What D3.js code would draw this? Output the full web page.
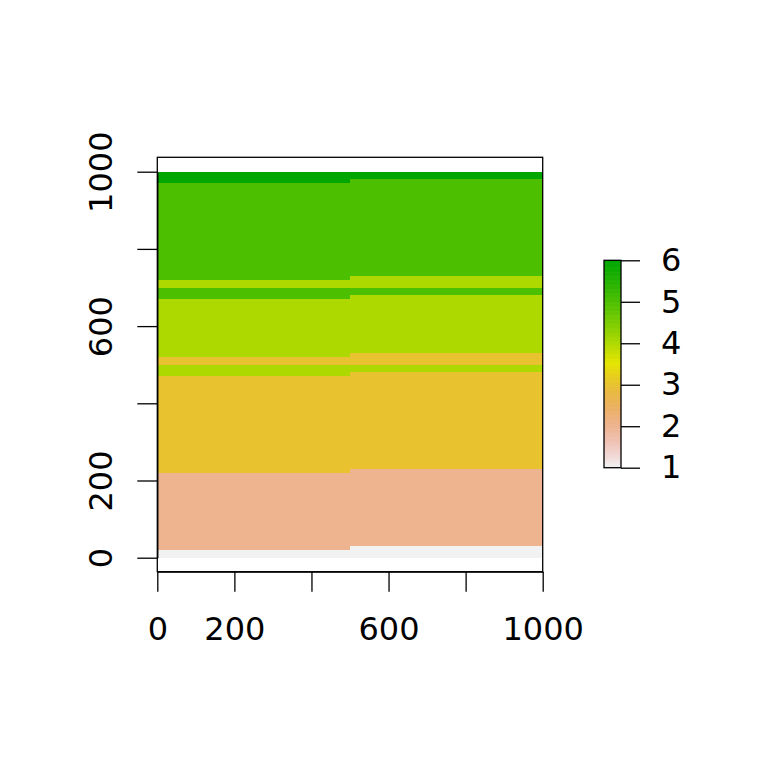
<!DOCTYPE html>
<html><head><meta charset="utf-8">
<script src="https://cdn.jsdelivr.net/npm/d3@7"></script>
<style>html,body{margin:0;padding:0;background:#fff;}svg{display:block;}text{font-family:"DejaVu Sans",sans-serif;}</style>
</head><body>
<script>
// ---- data ----
const colXEdges = [0, 500, 1000];
// left column (x 0-500): band lower edges, upper edges, values
const leftY0   = [0,  20, 220, 470, 500, 520, 670, 700, 720, 970];
const leftY1   = [20, 220, 470, 500, 520, 670, 700, 720, 970, 1000];
const leftVal  = [1,  2,   3,   4,   3,   4,   5,   4,   5,   6];
// right column (x 500-1000)
const rightY0  = [0,  30, 230, 480, 500, 530, 680, 700, 730, 980];
const rightY1  = [30, 230, 480, 500, 530, 680, 700, 730, 980, 1000];
const rightVal = [1,  2,   3,   4,   3,   4,   5,   4,   5,   6];
const xTicks = [0, 200, 400, 600, 800, 1000];
const xTickLabels = ["0", "200", "", "600", "", "1000"];
const yTicks = [0, 200, 400, 600, 800, 1000];
const yTickLabels = ["0", "200", "", "600", "", "1000"];
const legendTicks = [1, 2, 3, 4, 5, 6];
const zRange = [1, 6];

// ---- terrain.colors(255), reversed (R) ----
function hsv(h, s, v) {
  const i = Math.floor(h * 6) % 6, f = h * 6 - Math.floor(h * 6);
  const p = v * (1 - s), q = v * (1 - f * s), t = v * (1 - (1 - f) * s);
  let r, g, b;
  switch (i) { case 0: r=v;g=t;b=p;break; case 1: r=q;g=v;b=p;break; case 2: r=p;g=v;b=t;break;
    case 3: r=p;g=q;b=v;break; case 4: r=t;g=p;b=v;break; default: r=v;g=p;b=q; }
  return d3.rgb(Math.round(r*255), Math.round(g*255), Math.round(b*255)).formatHex();
}
function seq(a, b, n) { const out = []; for (let i = 0; i < n; i++) out.push(n === 1 ? a : a + (b - a) * i / (n - 1)); return out; }
function terrainColors(n) {
  const k = Math.floor(n / 2);
  const h = [4/12, 2/12, 0], s = [1, 1, 0], v = [0.65, 0.9, 0.95];
  const res = [];
  const h1 = seq(h[0], h[1], k), s1 = seq(s[0], s[1], k), v1 = seq(v[0], v[1], k);
  for (let i = 0; i < k; i++) res.push(hsv(h1[i], s1[i], v1[i]));
  const m = n - k + 1;
  const h2 = seq(h[1], h[2], m), s2 = seq(s[1], s[2], m), v2 = seq(v[1], v[2], m);
  for (let i = 1; i < m; i++) res.push(hsv(h2[i], s2[i], v2[i]));
  return res;
}
const pal = terrainColors(255).reverse();
function colorOf(z) {
  let idx = Math.floor((z - zRange[0]) / (zRange[1] - zRange[0]) * pal.length);
  idx = Math.max(0, Math.min(pal.length - 1, idx));
  return pal[idx];
}

// ---- layout ----
const W = 768, H = 768;
const svg = d3.select("body").append("svg").attr("width", W).attr("height", H);
const x = d3.scaleLinear().domain([0, 1000]).range([157.3, 542.7]);
const y = d3.scaleLinear().domain([0, 1000]).range([557.7, 171.7]);
const boxTop = 157.3, boxBottom = 571.7;

// raster cells
const cells = [];
leftVal.forEach((v, i) => cells.push({x0: colXEdges[0], x1: colXEdges[1], y0: leftY0[i], y1: leftY1[i], v}));
rightVal.forEach((v, i) => cells.push({x0: colXEdges[1], x1: colXEdges[2], y0: rightY0[i], y1: rightY1[i], v}));
svg.append("g").attr("shape-rendering", "crispEdges").selectAll("rect").data(cells).join("rect")
  .attr("x", d => x(d.x0)).attr("width", d => x(d.x1) - x(d.x0))
  .attr("y", d => y(d.y1)).attr("height", d => y(d.y0) - y(d.y1))
  .attr("fill", d => colorOf(d.v));

// axes
const fs = 32;
const xAxis = d3.axisBottom(x).tickValues(xTicks).tickSize(20).tickSizeOuter(0)
  .tickFormat((d, i) => xTickLabels[i]).tickPadding(26);
const gx = svg.append("g").attr("transform", `translate(0,${boxBottom})`).call(xAxis);
const yAxis = d3.axisLeft(y).tickValues(yTicks).tickSize(20).tickSizeOuter(0)
  .tickFormat((d, i) => yTickLabels[i]);
const gy = svg.append("g").attr("transform", `translate(${x(0)},0)`).call(yAxis);
[gx, gy].forEach(g => {
  g.selectAll("path.domain").attr("stroke", "#000").attr("stroke-width", 1.3);
  g.selectAll(".tick line").attr("stroke", "#000").attr("stroke-width", 1.3);
  g.selectAll(".tick text").attr("fill", "#000").style("font-size", fs + "px").style("font-family", "DejaVu Sans");
});
gx.selectAll(".tick text").attr("dy", "0.71em");
gy.selectAll(".tick text")
  .attr("x", null)
  .attr("text-anchor", "middle")
  .attr("transform", "translate(-57,0) rotate(-90)")
  .attr("dy", "0.36em");

// plot box
svg.append("rect").attr("x", x(0)).attr("y", boxTop).attr("width", x(1000) - x(0)).attr("height", boxBottom - boxTop)
  .attr("fill", "none").attr("stroke", "#000").attr("stroke-width", 1.3);

// legend
const lx0 = 604, lx1 = 621;
const ly = d3.scaleLinear().domain(zRange).range([467.7, 260.3]);
const nSteps = pal.length;
const legSteps = d3.range(nSteps).map(i => ({z0: zRange[0] + (zRange[1]-zRange[0]) * i / nSteps, z1: zRange[0] + (zRange[1]-zRange[0]) * (i+1) / nSteps, c: pal[i]}));
svg.append("g").selectAll("rect").data(legSteps).join("rect")
  .attr("x", lx0).attr("width", lx1 - lx0)
  .attr("y", d => ly(d.z1) - 0.3).attr("height", d => ly(d.z0) - ly(d.z1) + 0.6)
  .attr("fill", d => d.c);
svg.append("rect").attr("x", lx0).attr("y", ly(6)).attr("width", lx1 - lx0).attr("height", ly(1) - ly(6))
  .attr("fill", "none").attr("stroke", "#000").attr("stroke-width", 1.3);
const lAxis = d3.axisRight(ly).tickValues(legendTicks).tickSize(19).tickSizeOuter(0).tickPadding(21).tickFormat(d3.format("d"));
const gl = svg.append("g").attr("transform", `translate(${lx1},0)`).call(lAxis);
gl.select("path.domain").remove();
gl.selectAll(".tick line").attr("stroke", "#000").attr("stroke-width", 1.3);
gl.selectAll(".tick text").attr("fill", "#000").style("font-size", fs + "px").style("font-family", "DejaVu Sans");
</script>
</body></html>
